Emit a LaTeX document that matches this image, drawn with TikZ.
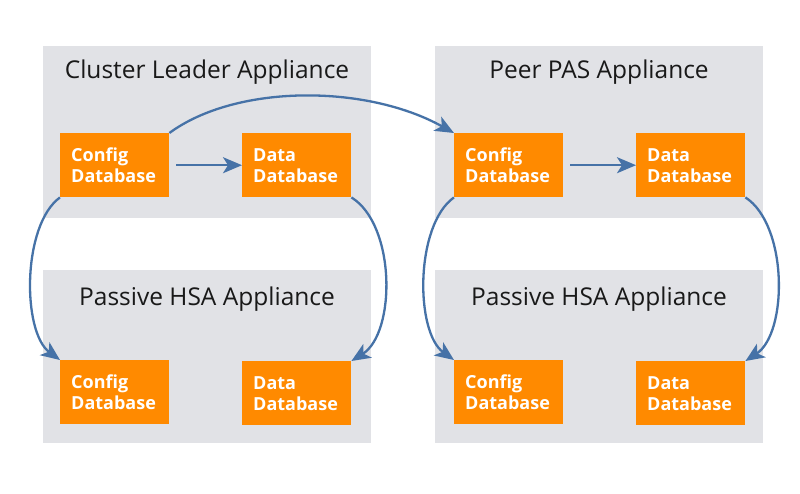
\documentclass[tikz,border=0pt]{standalone}
\usepackage{fontspec}
\setmainfont{Open Sans}
\usetikzlibrary{arrows.meta}
\definecolor{panelgray}{HTML}{E1E2E6}
\definecolor{dborange}{HTML}{FF8A00}
\definecolor{arrowblue}{HTML}{4672A7}
\begin{document}
\begin{tikzpicture}[x=1pt,y=-1pt,
  panel/.style={fill=panelgray, draw=none},
  paneltitle/.style={anchor=base, font=\fontsize{24.5}{28}\selectfont, text=black!90},
  dbbox/.style={fill=dborange, draw=none, anchor=north west, minimum height=64pt,
    text width=87pt, inner xsep=11pt, inner ysep=0pt, align=left, text=white,
    font=\bfseries\fontsize{18}{21}\selectfont},
  flow/.style={draw=arrowblue, line width=2.3pt, -{Stealth[length=19pt,width=16pt,inset=5pt]}}
]
\useasboundingbox (0,0) rectangle (800,493);
\fill[white] (0,0) rectangle (800,493);
% panels
\fill[panel] (43,46) rectangle (371,218) coordinate (p1);
\fill[panel] (435,46) rectangle (763,218) coordinate (p2);
\fill[panel] (43,270) rectangle (371,443) coordinate (p3);
\fill[panel] (435,270) rectangle (763,443) coordinate (p4);
% titles
\node[paneltitle] (t1) at (207,78) {Cluster Leader Appliance};
\node[paneltitle] (t2) at (599,78) {Peer PAS Appliance};
\node[paneltitle] (t3) at (207,305) {Passive HSA Appliance};
\node[paneltitle] (t4) at (599,305) {Passive HSA Appliance};
% database boxes
\node[dbbox] (c1) at (60,133) {Config\\Database};
\node[dbbox] (d1) at (242,133) {Data\\Database};
\node[dbbox] (c2) at (454,133) {Config\\Database};
\node[dbbox] (d2) at (636,133) {Data\\Database};
\node[dbbox] (c3) at (60,360) {Config\\Database};
\node[dbbox] (d3) at (242,361) {Data\\Database};
\node[dbbox] (c4) at (454,360) {Config\\Database};
\node[dbbox] (d4) at (636,361) {Data\\Database};
% connectors
\draw[flow] ([xshift=7pt]c1.east) -- (d1.west);
\draw[flow] ([xshift=7pt]c2.east) -- (d2.west);
\draw[flow] (c1.north east) .. controls (236,84) and (366,84) .. (c2.north west);
\draw[flow] (c1.south west) .. controls (22,225) and (22,332) .. (c3.north west);
\draw[flow] (d1.south east) .. controls (396,225) and (396,333) .. (d3.north east);
\draw[flow] (c2.south west) .. controls (415,225) and (415,332) .. (c4.north west);
\draw[flow] (d2.south east) .. controls (788,225) and (788,333) .. (d4.north east);
\end{tikzpicture}
\end{document}
